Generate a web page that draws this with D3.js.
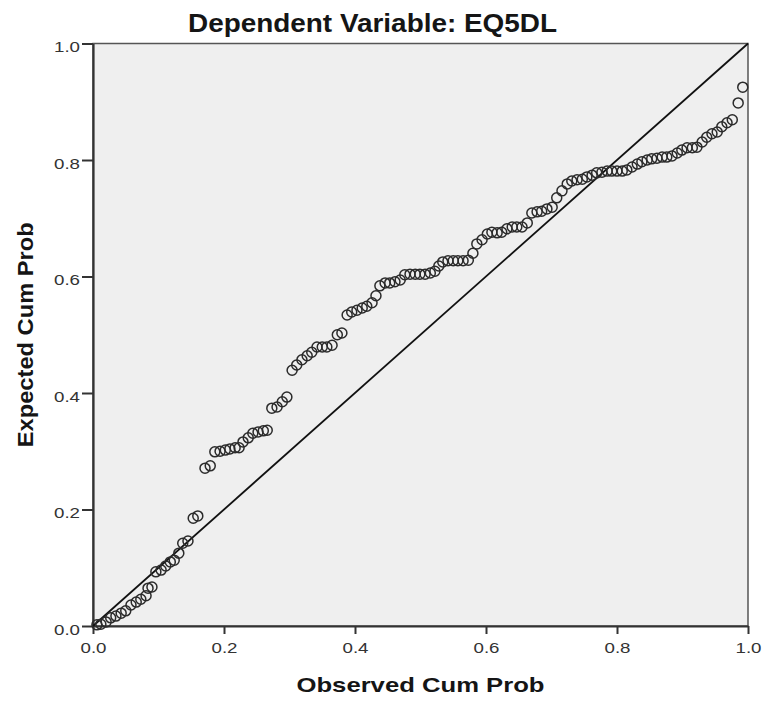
<!DOCTYPE html>
<html>
  <head>
    <meta charset="utf-8" />
    <title>P-P plot EQ5DL</title>
    <script src="https://d3js.org/d3.v7.min.js"></script>
    <style>
      body {
        margin: 0;
        background: white;
      }
      .tick text {
        font-family: "Liberation Sans", Arial, sans-serif;
        font-size: 15.5px;
        fill: #333;
      }
      .title {
        font-family: "Liberation Sans", Arial, sans-serif;
        font-weight: bold;
        fill: #151515;
      }
    </style>
  </head>
  <body>
    <svg id="pp" width="764" height="702"></svg>

    <script>
      // observed cumulative probability (x) for each residual
      const observed = [
        0.006, 0.012, 0.020, 0.027, 0.035, 0.043, 0.050, 0.058, 0.066, 0.073,
        0.081, 0.084, 0.090, 0.096, 0.104, 0.111, 0.118, 0.124, 0.131, 0.137,
        0.145, 0.153, 0.160, 0.171, 0.179, 0.186, 0.194, 0.202, 0.209, 0.217,
        0.223, 0.229, 0.237, 0.244, 0.252, 0.260, 0.266, 0.273, 0.281, 0.289,
        0.296, 0.304, 0.311, 0.319, 0.327, 0.334, 0.342, 0.350, 0.357, 0.365,
        0.373, 0.380, 0.388, 0.395, 0.403, 0.411, 0.418, 0.426, 0.432, 0.438,
        0.446, 0.453, 0.461, 0.469, 0.476, 0.484, 0.492, 0.499, 0.507, 0.515,
        0.522, 0.528, 0.534, 0.542, 0.550, 0.557, 0.565, 0.573, 0.580, 0.586,
        0.594, 0.602, 0.609, 0.617, 0.624, 0.632, 0.640, 0.647, 0.655, 0.663,
        0.670, 0.678, 0.685, 0.693, 0.701, 0.708, 0.716, 0.724, 0.731, 0.739,
        0.747, 0.754, 0.762, 0.769, 0.777, 0.785, 0.792, 0.800, 0.808, 0.815,
        0.823, 0.831, 0.838, 0.846, 0.853, 0.861, 0.869, 0.876, 0.884, 0.892,
        0.899, 0.907, 0.915, 0.922, 0.930, 0.937, 0.945, 0.953, 0.960, 0.968,
        0.976, 0.985, 0.992
      ];
      // expected cumulative probability (y)
      const expected = [
        0.002, 0.003, 0.007, 0.014, 0.017, 0.022, 0.026, 0.036, 0.041, 0.046,
        0.052, 0.065, 0.067, 0.093, 0.096, 0.103, 0.110, 0.113, 0.125, 0.142,
        0.146, 0.185, 0.189, 0.271, 0.275, 0.299, 0.300, 0.302, 0.304, 0.306,
        0.306, 0.316, 0.323, 0.331, 0.333, 0.335, 0.336, 0.374, 0.376, 0.385,
        0.393, 0.439, 0.448, 0.457, 0.464, 0.470, 0.479, 0.479, 0.479, 0.482,
        0.500, 0.503, 0.534, 0.539, 0.542, 0.546, 0.549, 0.555, 0.567, 0.584,
        0.589, 0.589, 0.591, 0.594, 0.603, 0.604, 0.604, 0.604, 0.604, 0.606,
        0.609, 0.618, 0.625, 0.627, 0.627, 0.627, 0.627, 0.628, 0.640, 0.656,
        0.663, 0.673, 0.676, 0.675, 0.676, 0.682, 0.685, 0.685, 0.685, 0.692,
        0.709, 0.711, 0.712, 0.716, 0.719, 0.735, 0.747, 0.759, 0.764, 0.766,
        0.767, 0.771, 0.774, 0.778, 0.779, 0.781, 0.781, 0.781, 0.781, 0.783,
        0.788, 0.793, 0.797, 0.800, 0.802, 0.803, 0.805, 0.805, 0.807, 0.812,
        0.817, 0.821, 0.821, 0.822, 0.831, 0.839, 0.845, 0.848, 0.857, 0.864,
        0.869, 0.898, 0.925
      ];
      const tickVals = [0.0, 0.2, 0.4, 0.6, 0.8, 1.0];
      const chartTitle = "Dependent Variable: EQ5DL";
      const xTitle = "Observed Cum Prob";
      const yTitle = "Expected Cum Prob";

      const pts = observed.map((d, i) => ({ x: d, y: expected[i] }));

      const svg = d3.select("#pp");
      const margin = { top: 43.5, right: 16, bottom: 76, left: 93 };
      const width = +svg.attr("width");
      const height = +svg.attr("height");

      const x = d3.scaleLinear().domain([0, 1]).range([margin.left, width - margin.right]);
      const y = d3.scaleLinear().domain([0, 1]).range([height - margin.bottom, margin.top]);

      // plot background + frame
      svg
        .append("rect")
        .attr("x", x(0))
        .attr("y", y(1))
        .attr("width", x(1) - x(0))
        .attr("height", y(0) - y(1))
        .attr("fill", "#efefef")
        .attr("stroke", "#555")
        .attr("stroke-width", 1.5);

      // axes
      const fmt = d3.format(".1f");
      const yAxis = svg
        .append("g")
        .attr("transform", "translate(" + x(0) + ",0)")
        .call(d3.axisLeft(y).tickValues(tickVals).tickFormat(fmt).tickSize(11).tickSizeOuter(0));
      yAxis.select(".domain").attr("stroke", "#333").attr("stroke-width", 2.2);
      yAxis.selectAll(".tick line").attr("stroke", "#333").attr("stroke-width", 2);
      yAxis
        .selectAll(".tick text")
        .attr("x", -13)
        .attr("dy", "0.52em")
        .attr("textLength", 26)
        .attr("lengthAdjust", "spacingAndGlyphs");

      const xAxis = svg
        .append("g")
        .attr("transform", "translate(0," + y(0) + ")")
        .call(d3.axisBottom(x).tickValues(tickVals).tickFormat(fmt).tickSize(8).tickSizeOuter(0));
      xAxis.select(".domain").attr("stroke", "#333").attr("stroke-width", 2.2);
      xAxis.selectAll(".tick line").attr("stroke", "#333").attr("stroke-width", 2);
      xAxis
        .selectAll(".tick text")
        .attr("y", 16)
        .attr("dy", "0.71em")
        .attr("textLength", 26)
        .attr("lengthAdjust", "spacingAndGlyphs");

      // reference diagonal
      svg
        .append("line")
        .attr("x1", x(0))
        .attr("y1", y(0))
        .attr("x2", x(1))
        .attr("y2", y(1))
        .attr("stroke", "#111")
        .attr("stroke-width", 1.8);

      // points
      svg
        .append("g")
        .selectAll("circle")
        .data(pts)
        .join("circle")
        .attr("cx", (d) => x(d.x))
        .attr("cy", (d) => y(d.y))
        .attr("r", 5)
        .attr("fill", "none")
        .attr("stroke", "#2b2b2b")
        .attr("stroke-width", 1.5);

      // titles
      svg
        .append("text")
        .attr("class", "title")
        .attr("x", 372.5)
        .attr("y", 32)
        .attr("text-anchor", "middle")
        .attr("font-size", 25)
        .attr("textLength", 369)
        .attr("lengthAdjust", "spacingAndGlyphs")
        .text(chartTitle);

      svg
        .append("text")
        .attr("class", "title")
        .attr("x", (x(0) + x(1)) / 2)
        .attr("y", 692)
        .attr("text-anchor", "middle")
        .attr("font-size", 21)
        .attr("textLength", 248)
        .attr("lengthAdjust", "spacingAndGlyphs")
        .text(xTitle);

      svg
        .append("text")
        .attr("class", "title")
        .attr("transform", "translate(33," + (y(0) + y(1)) / 2 + ")rotate(-90)")
        .attr("text-anchor", "middle")
        .attr("font-size", 22)
        .attr("textLength", 225)
        .attr("lengthAdjust", "spacingAndGlyphs")
        .text(yTitle);
    </script>
  </body>
</html>
